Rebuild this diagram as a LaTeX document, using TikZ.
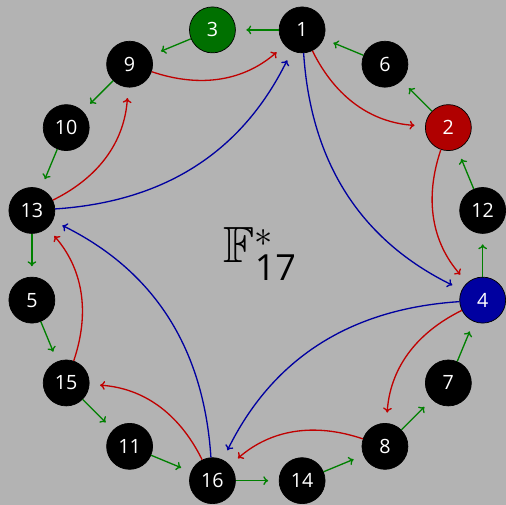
\documentclass[tikz,border=0pt]{standalone}
\usepackage{fontspec}
\setmainfont{Open Sans}
\usepackage{tikz}
\usepackage{amsmath}
\usepackage{amssymb}
\usetikzlibrary{
  arrows.meta,
  positioning,
  calc
}
\definecolor{fpBack}{HTML}{B3B3B3}
\definecolor{fpGen}{HTML}{008000}
\definecolor{fpGenFill}{HTML}{007000}
\definecolor{fpTwo}{HTML}{C00000}
\definecolor{fpTwoFill}{HTML}{B00000}
\definecolor{fpFour}{HTML}{0000A0}
\tikzset{
  elem/.style={
    circle, draw=black, thin, fill=black, text=white,
    minimum size=9.2mm, inner sep=0pt, font=\fontsize{11.2}{13}\selectfont
  },
  gen/.style={elem, fill=fpGenFill},
  two/.style={elem, fill=fpTwoFill},
  four/.style={elem, fill=fpFour},
  mularrow/.style={-{To[length=2.8pt, width=5pt]}, line width=0.75pt, shorten >=6pt},
  bythree/.style={mularrow, fpGen},
  bytwo/.style={mularrow, fpTwo, bend right=30},
  byfour/.style={mularrow, fpFour, bend right=30},
  groupname/.style={font=\fontsize{29}{32}\selectfont}
}

\begin{document}
\begin{tikzpicture}
  % background, sets the margins
  \fill[fpBack] (-5.15,-4.99) rectangle (4.97,5.11);

  % powers of the generator 3, round the circle
  \node[elem] (n1)  at (78.75:4.6)  {1};
  \node[gen]  (n3)  at (101.25:4.6) {3};
  \node[elem] (n9)  at (123.75:4.6) {9};
  \node[elem] (n10) at (146.25:4.6) {10};
  \node[elem] (n13) at (168.75:4.6) {13};
  \node[elem] (n5)  at (191.25:4.6) {5};
  \node[elem] (n15) at (213.75:4.6) {15};
  \node[elem] (n11) at (236.25:4.6) {11};
  \node[elem] (n16) at (258.75:4.6) {16};
  \node[elem] (n14) at (281.25:4.6) {14};
  \node[elem] (n8)  at (303.75:4.6) {8};
  \node[elem] (n7)  at (326.25:4.6) {7};
  \node[four] (n4)  at (348.75:4.6) {4};
  \node[elem] (n12) at (11.25:4.6)  {12};
  \node[two]  (n2)  at (33.75:4.6)  {2};
  \node[elem] (n6)  at (56.25:4.6)  {6};

  \node[groupname] (grp) at (0.06,0.02)
    {$\mathbb{F}^{*}_{\mbox{\fontsize{20.5}{21}\selectfont 17}}$};

  % times 3
  \draw[bythree] (n1) -- (n3);
  \draw[bythree] (n3) -- (n9);
  \draw[bythree] (n9) -- (n10);
  \draw[bythree] (n10) -- (n13);
  \draw[bythree] (n13) -- (n5);
  \draw[bythree] (n5) -- (n15);
  \draw[bythree] (n15) -- (n11);
  \draw[bythree] (n11) -- (n16);
  \draw[bythree] (n16) -- (n14);
  \draw[bythree] (n14) -- (n8);
  \draw[bythree] (n8) -- (n7);
  \draw[bythree] (n7) -- (n4);
  \draw[bythree] (n4) -- (n12);
  \draw[bythree] (n12) -- (n2);
  \draw[bythree] (n2) -- (n6);
  \draw[bythree] (n6) -- (n1);

  % times 2
  \draw[bytwo] (n1) to (n2);
  \draw[bytwo] (n2) to (n4);
  \draw[bytwo] (n4) to (n8);
  \draw[bytwo] (n8) to (n16);
  \draw[bytwo] (n16) to (n15);
  \draw[bytwo] (n15) to (n13);
  \draw[bytwo] (n13) to (n9);
  \draw[bytwo] (n9) to (n1);

  % times 4
  \draw[byfour] (n1) to (n4);
  \draw[byfour] (n4) to (n16);
  \draw[byfour] (n16) to (n13);
  \draw[byfour] (n13) to (n1);
\end{tikzpicture}
\end{document}
